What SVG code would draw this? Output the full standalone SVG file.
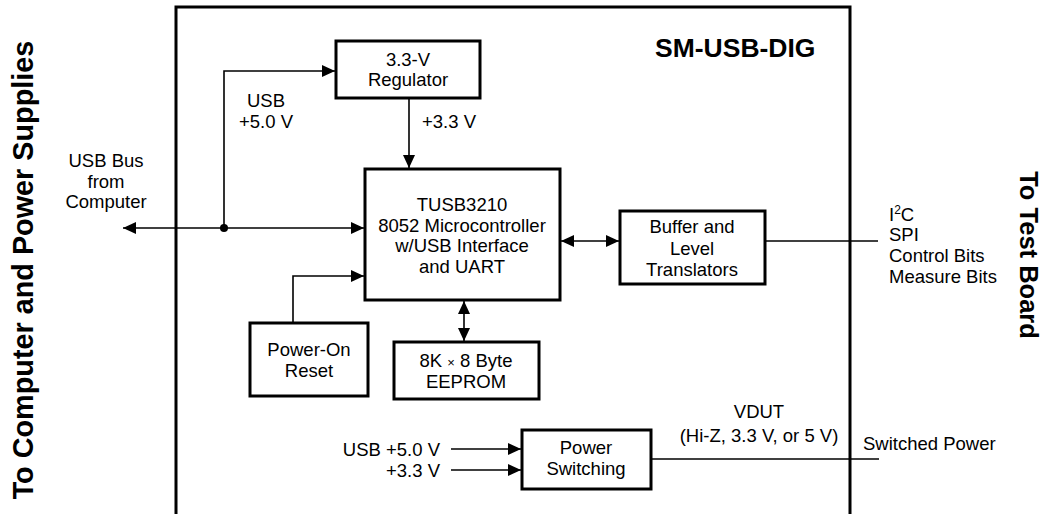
<svg xmlns="http://www.w3.org/2000/svg" width="1047" height="514" viewBox="0 0 1047 514">
<style>
text{font-family:"Liberation Sans",Arial,sans-serif;font-size:18.5px;fill:#000}
.c{text-anchor:middle}
.e{text-anchor:end}
.b{font-weight:bold}
.box{fill:#fff;stroke:#000;stroke-width:3}
.ln{fill:none;stroke:#000;stroke-width:1.6}
</style>
<defs>
<marker id="ah" markerUnits="userSpaceOnUse" markerWidth="14" markerHeight="12" refX="13" refY="6" orient="auto-start-reverse" viewBox="0 0 14 12">
<path d="M0,0 L13,6 L0,12 z" fill="#000"/>
</marker>
</defs>
<rect width="1047" height="514" fill="#fff"/>
<g id="frame">
<path d="M176,520 V7 H850 V520" fill="none" stroke="#000" stroke-width="3"/>
<text class="b" x="655" y="57" style="font-size:26.5px">SM-USB-DIG</text>
</g>
<g id="side-labels">
<text class="b c" transform="translate(33,270) rotate(-90)" style="font-size:28.8px">To Computer and Power Supplies</text>
<text class="b c" transform="translate(1020,255) rotate(90)" style="font-size:25.5px">To Test Board</text>
</g>
<g id="connectors">
<path class="ln" d="M123,228 H364" marker-start="url(#ah)" marker-end="url(#ah)"/>
<path class="ln" d="M224,228 V71 H335" marker-end="url(#ah)"/>
<circle cx="224" cy="228" r="4" fill="#000"/>
<path class="ln" d="M409,98 V168" marker-end="url(#ah)"/>
<path class="ln" d="M293,323 V276 H364" marker-end="url(#ah)"/>
<path class="ln" d="M464,301 V341" marker-start="url(#ah)" marker-end="url(#ah)"/>
<path class="ln" d="M561,241 H619" marker-start="url(#ah)" marker-end="url(#ah)"/>
<path class="ln" d="M765,241 H878"/>
<path class="ln" d="M451,449 H521" marker-end="url(#ah)"/>
<path class="ln" d="M451,470 H521" marker-end="url(#ah)"/>
<path class="ln" d="M651,459 H879"/>
</g>
<g id="regulator">
<rect class="box" x="336" y="41" width="144" height="57"/>
<text class="c" x="408" y="66">3.3-V</text>
<text class="c" x="408" y="86">Regulator</text>
</g>
<g id="tusb3210">
<rect class="box" x="365" y="169" width="195" height="131"/>
<text class="c" x="462" y="211">TUSB3210</text>
<text class="c" x="462" y="232">8052 Microcontroller</text>
<text class="c" x="462" y="252">w/USB Interface</text>
<text class="c" x="462" y="273">and UART</text>
</g>
<g id="buffer">
<rect class="box" x="620" y="211" width="145" height="73"/>
<text class="c" x="692" y="233">Buffer and</text>
<text class="c" x="692" y="255">Level</text>
<text class="c" x="692" y="276">Translators</text>
</g>
<g id="power-on-reset">
<rect class="box" x="250" y="323" width="118" height="73"/>
<text class="c" x="309" y="356">Power-On</text>
<text class="c" x="309" y="377">Reset</text>
</g>
<g id="eeprom">
<rect class="box" x="394" y="342" width="145" height="57"/>
<text class="c" x="466" y="367">8K <tspan style="font-size:13px">×</tspan> 8 Byte</text>
<text class="c" x="466" y="388">EEPROM</text>
</g>
<g id="power-switching">
<rect class="box" x="522" y="430" width="129" height="59"/>
<text class="c" x="586" y="454">Power</text>
<text class="c" x="586" y="475">Switching</text>
</g>
<g id="labels">
<text class="c" x="106" y="167">USB Bus</text>
<text class="c" x="106" y="188">from</text>
<text class="c" x="106" y="208">Computer</text>
<text class="c" x="266" y="107">USB</text>
<text class="c" x="266" y="128">+5.0 V</text>
<text x="422" y="128">+3.3 V</text>
<text x="889" y="221">I<tspan dy="-7" style="font-size:12px">2</tspan><tspan dy="7">C</tspan></text>
<text x="889" y="241">SPI</text>
<text x="889" y="262">Control Bits</text>
<text x="889" y="283">Measure Bits</text>
<text class="e" x="440" y="456">USB +5.0 V</text>
<text class="e" x="440" y="477">+3.3 V</text>
<text class="c" x="759" y="418">VDUT</text>
<text class="c" x="759" y="442">(Hi-Z, 3.3 V, or 5 V)</text>
<text x="863" y="450">Switched Power</text>
</g>
</svg>
